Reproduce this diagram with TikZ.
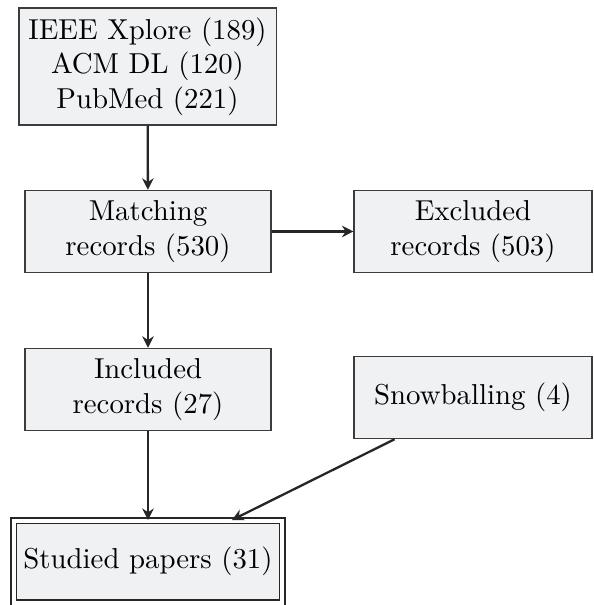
\documentclass[tikz,border=0pt]{standalone}
\usepackage{xcolor}
\usepackage{tikz}
\usetikzlibrary{positioning,arrows.meta}
\definecolor{boxfill}{RGB}{240, 241, 243}
\definecolor{boxline}{RGB}{60, 60, 60}
\tikzset{
    record/.style={rectangle, draw=boxline, fill=boxfill, line width=0.5pt, align=center, minimum width=3cm, minimum height=1cm},
    side record/.style={record, minimum width=2.9cm},
    result/.style={record, double, double distance=1.4pt, line width=0.5pt, draw=black!85},
    flow/.style={-{Stealth[length=4pt, width=4pt]}, line width=0.8pt, black!85}
}

\begin{document}
\begin{tikzpicture}[scale=1.0, every node/.style={scale=1.0}]
    \useasboundingbox (0,0) rectangle (7.235,-7.381);

    % Sources and selection steps
    \node[record] (sources) at (1.80,-0.81) {IEEE Xplore (189)\\ACM DL (120)\\PubMed (221)};
    \node[record] (matching) at (1.806,-2.824) {Matching\\records (530)};
    \node[side record] (excluded) at (5.771,-2.824) {Excluded\\records (503)};
    \node[record] (included) at (1.806,-4.752) {Included\\records (27)};
    \node[side record] (snowball) at (5.771,-4.850) {Snowballing (4)};

    % Final set
    \node[result] (studied) at (1.806,-6.853) {Studied papers (31)};

    % Connections
    \draw[flow] (sources) -- (matching);
    \draw[flow] (matching) -- (excluded);
    \draw[flow] (matching) -- (included);
    \draw[flow] (included) -- (studied);
    \draw[flow] (snowball.208) -- (studied);
\end{tikzpicture}
\end{document}
